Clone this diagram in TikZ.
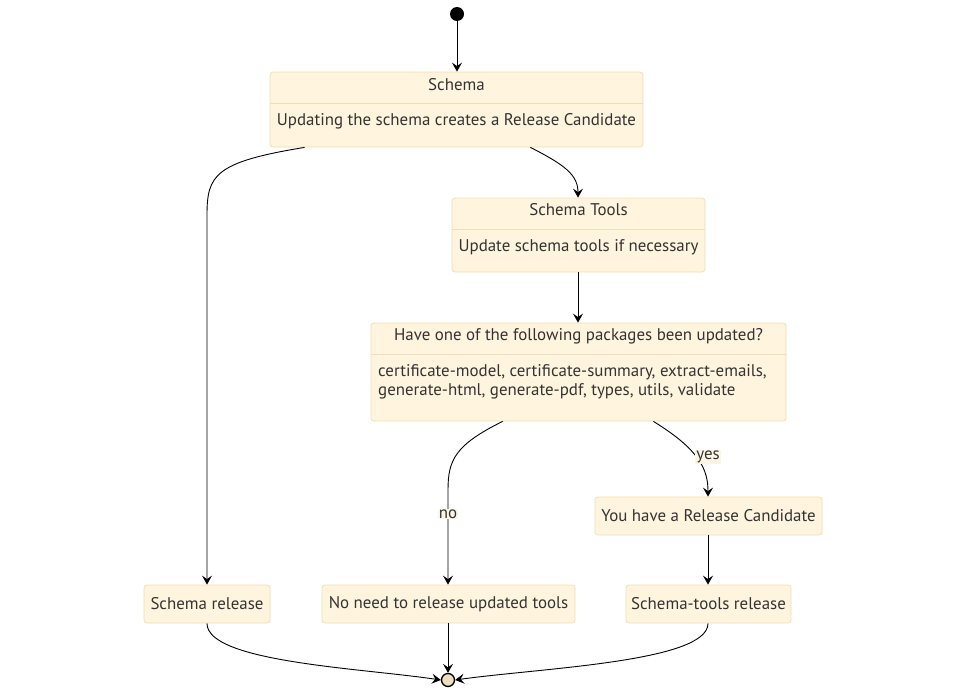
\documentclass[tikz,border=0pt]{standalone}
\usepackage{fontspec}
\setmainfont{PT Sans}
\usetikzlibrary{arrows.meta}
\definecolor{boxfill}{RGB}{255,244,221}
\definecolor{boxline}{RGB}{240,223,180}
\definecolor{txt}{RGB}{51,51,51}
\definecolor{lbl}{RGB}{253,246,228}
\definecolor{endfill}{RGB}{236,223,192}
\begin{document}
\begin{tikzpicture}[x=1pt,y=1pt, font=\fontsize{16.9}{19.5}\selectfont, text=txt,
  state/.style={draw=boxline, fill=boxfill, rounded corners=3pt, line width=0.8pt, inner sep=0pt},
  divider/.style={draw=boxline, line width=0.8pt},
  lbltext/.style={inner sep=0pt, align=left},
  edge/.style={draw=black, line width=0.9pt, -{Stealth[length=9pt,width=10pt,inset=3.5pt]}},
  lab/.style={fill=lbl, inner sep=1pt},
  ]
\useasboundingbox (0,0) rectangle (966,-696);

% start / end
\node[circle, fill=black, minimum size=14pt, inner sep=0pt] (start) at (457,-14) {};
\node[circle, fill=endfill, draw=black, line width=1.3pt, minimum size=13pt, inner sep=0pt] (end) at (448,-680) {};

% Schema
\node[state, minimum width=373pt, minimum height=75pt] (schema) at (456.5,-109.5) {};
\draw[divider] (schema.west |- 0,-103) -- (schema.east |- 0,-103);
\node[lbltext] (schemaT) at (456.5,-85) {Schema};
\node[lbltext] (schemaB) at (456.5,-121) {Updating the schema creates a Release Candidate};

% Schema Tools
\node[state, minimum width=253pt, minimum height=74pt] (tools) at (578.5,-235) {};
\draw[divider] (tools.west |- 0,-229) -- (tools.east |- 0,-229);
\node[lbltext] (toolsT) at (578.5,-210) {Schema Tools};
\node[lbltext] (toolsB) at (578.5,-247) {Update schema tools if necessary};

% Packages
\node[state, minimum width=415pt, minimum height=98pt] (pkg) at (578.5,-372) {};
\draw[divider] (pkg.west |- 0,-354) -- (pkg.east |- 0,-354);
\node[lbltext] (pkgT) at (578.5,-336) {Have one of the following packages been updated?};
\node[lbltext, anchor=west] (pkgB) at (378,-382) {certificate-model, certificate-summary, extract-emails,\\generate-html, generate-pdf, types, utils, validate};

% simple states
\node[state, minimum width=227pt, minimum height=38pt] (rc) at (708.5,-516) {You have a Release Candidate};
\node[state, minimum width=126pt, minimum height=38pt] (srel) at (207,-604) {Schema release};
\node[state, minimum width=253pt, minimum height=38pt] (noneed) at (448.5,-604) {No need to release updated tools};
\node[state, minimum width=165pt, minimum height=38pt] (strel) at (708.5,-604) {Schema-tools release};

% edges
\draw[edge] (start) -- (start |- schema.north);
\draw[edge] ([xshift=35pt]schema.south west) .. controls (215,-162) and (207,-175) .. (207,-215) -- (srel.north);
\draw[edge] ([xshift=-113pt]schema.south east) .. controls (565,-165) and (578,-175) .. (tools.north -| 578,0);
\draw[edge] (tools.south -| 578,0) -- (pkg.north -| 578,0);
\draw[edge] ([xshift=132pt]pkg.south west) .. controls (455,-445) and (448,-460) .. (448,-490) -- (noneed.north -| 448,0);
\node[lab] (nolab) at (448,-514) {no};
\draw[edge] ([xshift=-133pt]pkg.south east) .. controls (700,-450) and (708,-470) .. (rc.north -| 708,0);
\node[lab] (yeslab) at (708,-457) {yes};
\draw[edge] (rc.south -| 708,0) -- (strel.north -| 708,0);
\draw[edge] (srel.south) .. controls (207,-662) and (360,-668) .. (end.west);
\draw[edge] (noneed.south -| end) -- (end.north);
\draw[edge] (strel.south -| 708,0) .. controls (708,-662) and (540,-668) .. (end.east);
\end{tikzpicture}
\end{document}
